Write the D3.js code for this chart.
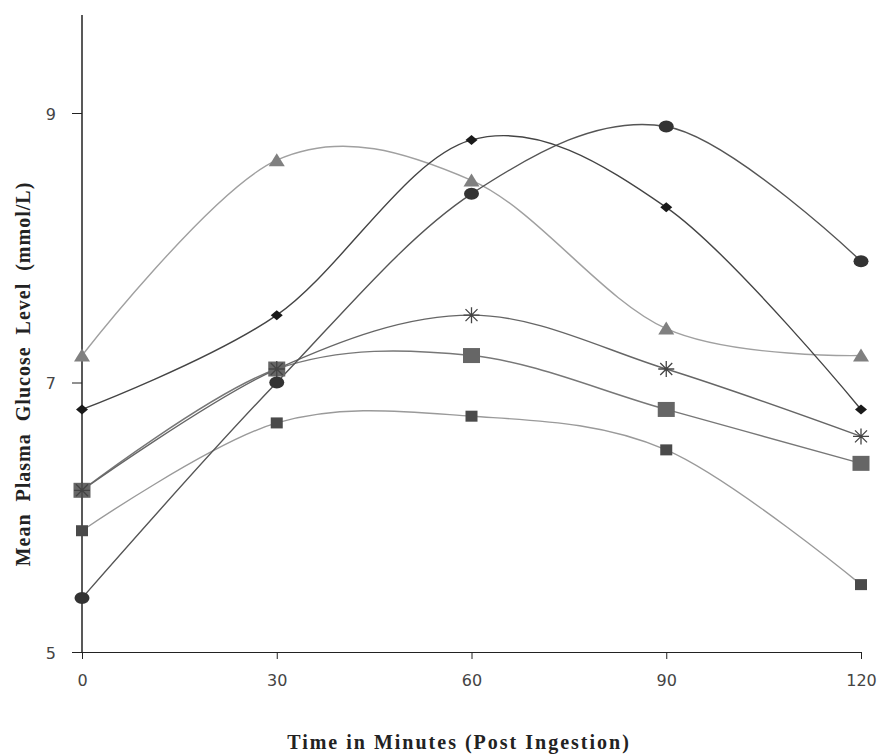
<!DOCTYPE html>
<html>
<head>
<meta charset="utf-8">
<script src="https://cdn.jsdelivr.net/npm/d3@7"></script>
<style>
  body { margin: 0; background: #fff; }
  svg { display: block; }
  .tick text { font-family: "DejaVu Sans", sans-serif; font-size: 16px; fill: #444; }
  .lbl { font-family: "Liberation Serif", "Times New Roman", serif; font-weight: bold; fill: #222; }
</style>
</head>
<body>
<div id="chart"></div>
<script>
// time points (minutes)
var times = [0, 30, 60, 90, 120];
var yTicks = [5, 7, 9];

// mean plasma glucose, mmol/L
var diamondVals  = [6.8, 7.5, 8.8, 8.3, 6.8];
var circleVals   = [5.4, 7.0, 8.4, 8.9, 7.9];
var triangleVals = [7.2, 8.65, 8.5, 7.4, 7.2];
var starVals     = [6.2, 7.1, 7.5, 7.1, 6.6];
var bigSqVals    = [6.2, 7.1, 7.2, 6.8, 6.4];
var smallSqVals  = [5.9, 6.7, 6.75, 6.5, 5.5];

var series = [
  {vals: smallSqVals,  line: '#9a9a9a', mark: 'smallsq',  fill: '#4a4a4a'},
  {vals: bigSqVals,    line: '#777',    mark: 'bigsq',    fill: '#666'},
  {vals: starVals,     line: '#666',    mark: 'star',     fill: '#444'},
  {vals: triangleVals, line: '#a0a0a0', mark: 'triangle', fill: '#808080'},
  {vals: circleVals,   line: '#555',    mark: 'circle',   fill: '#333'},
  {vals: diamondVals,  line: '#444',    mark: 'diamond',  fill: '#1a1a1a'}
];

var svg = d3.select('#chart').append('svg')
    .attr('width', 880)
    .attr('height', 756);

var xScale = d3.scaleLinear()
    .domain([0, 120])
    .range([82, 861]);

var yScale = d3.scaleLinear()
    .domain([5, 9])
    .range([652, 113]);

// axes
var xAxis = d3.axisBottom(xScale)
    .tickValues(times)
    .tickFormat(d3.format('d'))
    .tickSizeInner(7)
    .tickSizeOuter(0)
    .tickPadding(16);
var yAxis = d3.axisLeft(yScale)
    .tickValues(yTicks)
    .tickFormat(d3.format('d'))
    .tickSizeInner(10)
    .tickSizeOuter(0)
    .tickPadding(16);

var gx = svg.append('g')
    .attr('transform', 'translate(0,652)')
    .call(xAxis);
gx.select('.domain').attr('stroke', '#222').attr('stroke-width', 1.2);
gx.selectAll('.tick line').attr('stroke', '#222');

var gy = svg.append('g')
    .attr('transform', 'translate(82,0)')
    .call(yAxis);
gy.select('.domain').remove();
gy.append('line')
    .attr('x1', 0).attr('x2', 0)
    .attr('y1', 15).attr('y2', 652)
    .attr('stroke', '#222').attr('stroke-width', 1.5);
gy.selectAll('.tick line').attr('stroke', '#222');
gy.selectAll('.tick text').attr('dy', '0.4em');

// lines
var line = d3.line()
    .x(function(d, i){ return xScale(times[i]); })
    .y(function(d){ return yScale(d); })
    .curve(d3.curveCardinal.tension(0));

series.forEach(function(s){
    svg.append('path')
        .attr('d', line(s.vals))
        .attr('fill', 'none')
        .attr('stroke', s.line)
        .attr('stroke-width', 1.4);
});

// markers
series.forEach(function(s){
    var g = svg.append('g');
    s.vals.forEach(function(v, i){
        var cx = xScale(times[i]), cy = yScale(v);
        var m = g.append('g').attr('transform', 'translate(' + cx + ',' + cy + ')');
        if (s.mark == 'smallsq') {
            m.append('rect').attr('x', -6).attr('y', -5.5).attr('width', 12).attr('height', 11).attr('fill', s.fill);
        } else if (s.mark == 'bigsq') {
            m.append('rect').attr('x', -8.5).attr('y', -7.5).attr('width', 17).attr('height', 15).attr('fill', s.fill);
        } else if (s.mark == 'star') {
            m.append('path')
                .attr('d', 'M-8,0H8M0,-8V8M-6,-6L6,6M-6,6L6,-6')
                .attr('stroke', s.fill).attr('stroke-width', 1.3);
        } else if (s.mark == 'triangle') {
            m.append('path').attr('d', 'M0,-7L8,6H-8Z').attr('fill', s.fill);
        } else if (s.mark == 'circle') {
            m.append('ellipse').attr('rx', 7.5).attr('ry', 6).attr('fill', s.fill);
        } else if (s.mark == 'diamond') {
            m.append('path').attr('d', 'M0,-5L6,0L0,5L-6,0Z').attr('fill', s.fill);
        }
    });
});

// axis titles
svg.append('text')
    .attr('class', 'lbl')
    .attr('x', 459).attr('y', 749)
    .attr('text-anchor', 'middle')
    .style('font-size', '20px')
    .style('letter-spacing', '2px')
    .text('Time in Minutes (Post Ingestion)');

svg.append('text')
    .attr('class', 'lbl')
    .attr('transform', 'translate(30,374) rotate(-90)')
    .attr('text-anchor', 'middle')
    .style('font-size', '20px')
    .style('letter-spacing', '1px')
    .style('word-spacing', '6px')
    .text('Mean Plasma Glucose Level (mmol/L)');
</script>
</body>
</html>
